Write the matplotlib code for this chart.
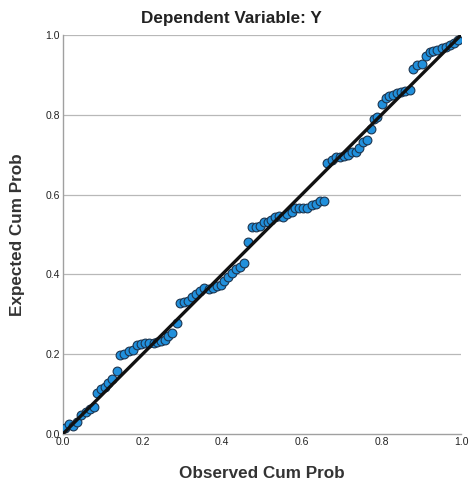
import matplotlib
matplotlib.use("Agg")
import matplotlib.pyplot as plt

plt.rcParams['font.family'] = ['Liberation Sans', 'DejaVu Sans']

title = "Dependent Variable: Y"
x_label = "Observed Cum Prob"
y_label = "Expected Cum Prob"
ticks = [0.0, 0.2, 0.4, 0.6, 0.8, 1.0]
tick_labels = ["0.0", "0.2", "0.4", "0.6", "0.8", "1.0"]

observed = [0.005, 0.015, 0.026, 0.036, 0.046, 0.057, 0.067, 0.078, 0.086, 0.096,
            0.106, 0.114, 0.124, 0.135, 0.144, 0.154, 0.165, 0.176, 0.186, 0.197,
            0.207, 0.217, 0.228, 0.237, 0.246, 0.256, 0.264, 0.273, 0.286, 0.294,
            0.304, 0.315, 0.325, 0.334, 0.344, 0.355, 0.366, 0.377, 0.386, 0.396,
            0.405, 0.414, 0.424, 0.435, 0.445, 0.455, 0.465, 0.474, 0.485, 0.495,
            0.505, 0.516, 0.524, 0.534, 0.544, 0.554, 0.564, 0.575, 0.583, 0.593,
            0.602, 0.613, 0.625, 0.635, 0.646, 0.656, 0.664, 0.675, 0.686, 0.696,
            0.706, 0.717, 0.727, 0.735, 0.744, 0.755, 0.765, 0.773, 0.781, 0.790,
            0.802, 0.811, 0.820, 0.830, 0.840, 0.849, 0.859, 0.872, 0.880, 0.890,
            0.901, 0.912, 0.922, 0.930, 0.940, 0.951, 0.962, 0.972, 0.982, 0.993]
expected = [0.016, 0.024, 0.021, 0.030, 0.048, 0.055, 0.062, 0.067, 0.102, 0.113,
            0.119, 0.127, 0.137, 0.159, 0.199, 0.201, 0.207, 0.210, 0.224, 0.226,
            0.227, 0.227, 0.229, 0.231, 0.233, 0.236, 0.245, 0.253, 0.277, 0.329,
            0.332, 0.334, 0.343, 0.351, 0.359, 0.366, 0.364, 0.367, 0.371, 0.374,
            0.384, 0.393, 0.403, 0.413, 0.418, 0.428, 0.482, 0.518, 0.520, 0.521,
            0.531, 0.532, 0.536, 0.545, 0.547, 0.545, 0.551, 0.556, 0.567, 0.567,
            0.567, 0.567, 0.574, 0.576, 0.585, 0.585, 0.678, 0.687, 0.693, 0.693,
            0.697, 0.699, 0.708, 0.706, 0.716, 0.733, 0.737, 0.764, 0.789, 0.794,
            0.827, 0.841, 0.846, 0.850, 0.854, 0.856, 0.859, 0.863, 0.914, 0.925,
            0.928, 0.947, 0.958, 0.959, 0.963, 0.967, 0.971, 0.975, 0.979, 0.987]
ref_line = [0.0, 1.0]

fig = plt.figure(figsize=(4.69, 4.86), dpi=100)
ax = fig.add_axes([0.134, 0.107, 0.849, 0.821])

for t in ticks[1:]:
    ax.axhline(t, color='#b8b8b8', lw=0.9, zorder=0)

ax.scatter(observed, expected, s=40, color='#2190dc', edgecolor='#1c3550',
           linewidth=0.8, zorder=3)
ax.plot(ref_line, ref_line, color='#111111', lw=2.4, zorder=4,
        solid_capstyle='butt')

ax.set_xlim(0, 1)
ax.set_ylim(0, 1)
ax.set_xticks(ticks)
ax.set_xticklabels(tick_labels)
ax.set_yticks(ticks)
ax.set_yticklabels(tick_labels)
ax.tick_params(length=0, labelsize=7.5, labelcolor='#222222', pad=2)
for s in ['top', 'right']:
    ax.spines[s].set_visible(False)
for s in ['left', 'bottom']:
    ax.spines[s].set_color('#a0a0a0')
    ax.spines[s].set_linewidth(1.0)

fig.text(0.494, 0.961, title, ha='center', va='center', fontsize=12.3,
         fontweight='bold', color='#222222')
fig.text(0.559, 0.025, x_label, ha='center', va='center', fontsize=12.3,
         fontweight='bold', color='#333333')
fig.text(0.038, 0.518, y_label, ha='center', va='center', fontsize=12.3,
         fontweight='bold', color='#333333', rotation=90)

fig.savefig("out.png", dpi=100)
